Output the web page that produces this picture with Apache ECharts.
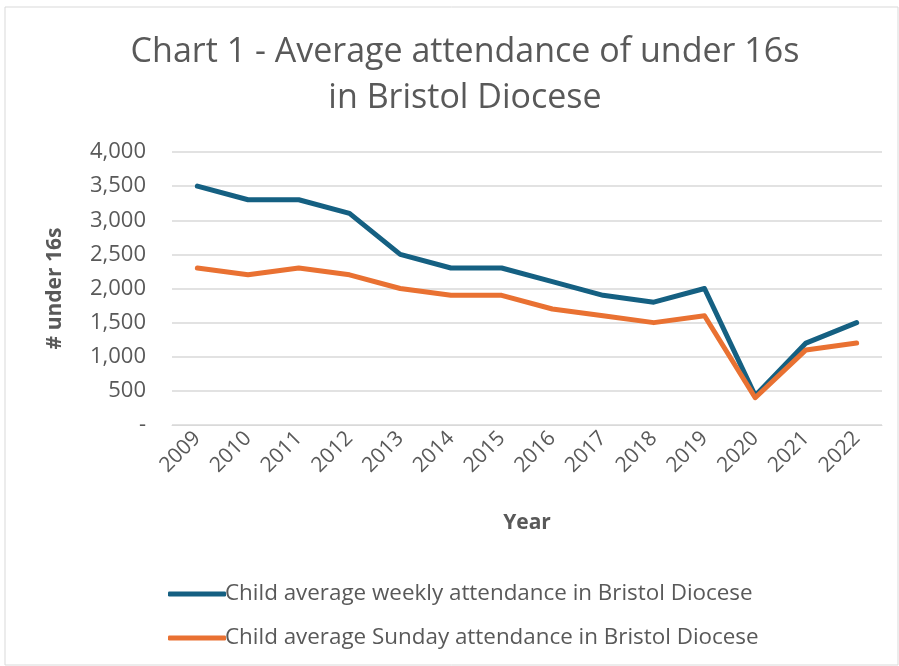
<!DOCTYPE html>
<html><head><meta charset="utf-8">
<script src="https://cdn.jsdelivr.net/npm/echarts@6/dist/echarts.min.js"></script>
<style>html,body{margin:0;padding:0;background:#fff}#c{width:899px;height:666px}</style>
</head><body><div id="c"></div>
<script>
const years = ['2009','2010','2011','2012','2013','2014','2015','2016','2017','2018','2019','2020','2021','2022'];
const weekly = [3500,3300,3300,3100,2500,2300,2300,2100,1900,1800,2000,430,1200,1500];
const sunday = [2300,2200,2300,2200,2000,1900,1900,1700,1600,1500,1600,400,1100,1200];
const seriesNames = ['Child average weekly attendance in Bristol Diocese','Child average Sunday attendance in Bristol Diocese'];
const titleText = 'Chart 1 - Average attendance of under 16s\nin Bristol Diocese';

const chart = echarts.init(document.getElementById('c'));
const font = '"Open Sans", "Noto Sans", sans-serif';
const grey = '#595959';
chart.setOption({
  animation:false,
  textStyle:{fontFamily:font},
  graphic:[{type:'rect',shape:{x:5,y:7,width:893,height:658},style:{fill:'none',stroke:'#d9d9d9',lineWidth:1}}],
  title:{text:titleText,left:460,top:24,textAlign:'center',
    textStyle:{fontFamily:font,fontSize:34,fontWeight:'normal',color:grey,lineHeight:46}},
  grid:{left:172,right:17,top:152,bottom:241},
  legend:{orient:'vertical',left:163,top:578,itemGap:22,itemWidth:58,itemHeight:5,
    icon:'roundRect',
    textStyle:{fontFamily:font,fontSize:22.4,color:grey,padding:[0,0,0,-6]},
    data:seriesNames},
  xAxis:{type:'category',data:years,boundaryGap:true,
    name:'Year',nameLocation:'middle',nameGap:88,
    nameTextStyle:{fontFamily:font,fontSize:21,fontWeight:'bold',color:grey},
    axisLine:{show:true,lineStyle:{color:'#d9d9d9',width:1}},axisTick:{show:false},
    axisLabel:{rotate:45,fontSize:21,color:grey,margin:10,fontFamily:font}},
  yAxis:{type:'value',min:0,max:4000,interval:500,
    name:'# under 16s',nameLocation:'middle',nameGap:106,nameRotate:90,
    nameTextStyle:{fontFamily:font,fontSize:21,fontWeight:'bold',color:grey},
    axisLine:{show:false},axisTick:{show:false},
    splitLine:{lineStyle:{color:'#d9d9d9',width:1.5}},
    axisLabel:{fontSize:22,color:grey,margin:26,fontFamily:font,
      formatter:v=>v===0?'-':v.toLocaleString('en-US')}},
  series:[
    {name:seriesNames[0],type:'line',data:weekly,symbol:'none',
      lineStyle:{color:'#156082',width:5,cap:'round',join:'round'},itemStyle:{color:'#156082'}},
    {name:seriesNames[1],type:'line',data:sunday,symbol:'none',
      lineStyle:{color:'#E97132',width:5,cap:'round',join:'round'},itemStyle:{color:'#E97132'}}
  ]
});
</script></body></html>
